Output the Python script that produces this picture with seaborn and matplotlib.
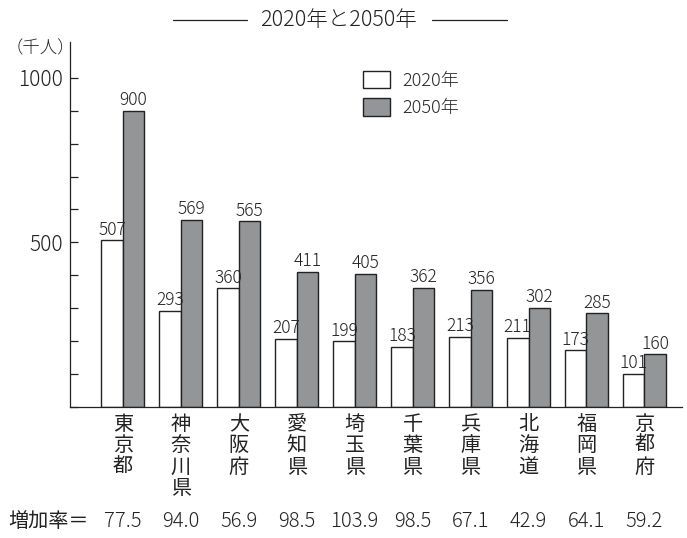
import pandas as pd
import matplotlib
matplotlib.use("Agg")
import matplotlib.pyplot as plt
from matplotlib.patches import Patch
import seaborn as sns

prefs = ["東京都", "神奈川県", "大阪府", "愛知県", "埼玉県",
         "千葉県", "兵庫県", "北海道", "福岡県", "京都府"]
v2020 = [507, 293, 360, 207, 199, 183, 213, 211, 173, 101]
v2050 = [900, 569, 565, 411, 405, 362, 356, 302, 285, 160]
rates = ["77.5", "94.0", "56.9", "98.5", "103.9", "98.5", "67.1", "42.9", "64.1", "59.2"]
years = ["2020年", "2050年"]
colors = ["white", "#939598"]

sns.set_style("white")
plt.rcParams["font.family"] = ["Noto Sans CJK JP", "DejaVu Sans"]
plt.rcParams["font.weight"] = "light"

ink = "#222222"

df = pd.DataFrame({
    "pref": prefs * 2,
    "value": v2020 + v2050,
    "year": [years[0]] * len(prefs) + [years[1]] * len(prefs),
})

fig = plt.figure(figsize=(6.87, 5.38), dpi=100)
ax = fig.add_axes([0.102, 0.2435, 0.89, 0.678])

sns.barplot(data=df, x="pref", y="value", hue="year", palette=colors,
            edgecolor=ink, linewidth=1.0, width=0.74, gap=0,
            ax=ax, legend=False)

for cont in ax.containers:
    ax.bar_label(cont, padding=1, fontsize=12.5, color=ink)

ax.set_xlim(-0.91, 9.64)
ax.set_ylim(0, 1108)
ax.set_yticks(range(0, 1001, 100))
ax.set_yticklabels(["500" if t == 500 else "1000" if t == 1000 else ""
                    for t in range(0, 1001, 100)], fontsize=15)
ax.tick_params(axis="y", left=True, direction="in", length=6, width=0.9,
               pad=5, colors=ink)
ax.set_xticks(range(len(prefs)))
ax.set_xticklabels(["\n".join(p) for p in prefs], fontsize=14.5,
                   linespacing=1.02, va="top", fontweight="normal")
ax.tick_params(axis="x", length=0, pad=5, colors=ink)
ax.set_xlabel("")
ax.set_ylabel("")
for s in ["top", "right"]:
    ax.spines[s].set_visible(False)
for s in ["left", "bottom"]:
    ax.spines[s].set_color(ink)
    ax.spines[s].set_linewidth(0.9)

handles = [Patch(facecolor=c, edgecolor=ink, linewidth=1.0) for c in colors]
ax.legend(handles, years, loc="upper left", bbox_to_anchor=(0.452, 0.967),
          frameon=False, fontsize=13, handlelength=1.5, handleheight=1.15,
          labelspacing=0.45, handletextpad=0.7)

fig.text(0.058, 0.91, "（千人）", fontsize=12.5, ha="center", va="center", color=ink)

# title with side rules
fig.text(0.493, 0.963, "2020年と2050年", fontsize=15.5, ha="center", va="center", color=ink)
fig.add_artist(plt.Line2D([0.252, 0.360], [0.963, 0.963], color=ink, lw=0.9))
fig.add_artist(plt.Line2D([0.629, 0.738], [0.963, 0.963], color=ink, lw=0.9))

# increase rates
fig.text(0.012, 0.031, "増加率＝", fontsize=14.5, ha="left", va="center",
         color=ink, fontweight="normal")
for i, r in enumerate(rates):
    x = ax.transData.transform((i, 0))[0] / fig.bbox.width
    fig.text(x, 0.031, r, fontsize=14.5, ha="center", va="center", color=ink)

fig.savefig("out.png", dpi=100)
